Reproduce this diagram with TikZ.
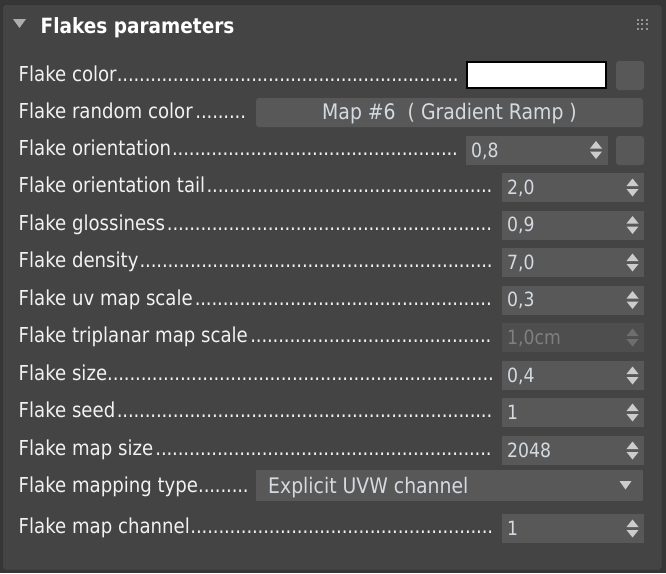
\documentclass[tikz,border=0pt]{standalone}
\usepackage{fontspec}
\setmainfont{DejaVu Sans}[FakeStretch=0.88]
\definecolor{bgout}{RGB}{54,54,54}
\definecolor{edgec}{RGB}{46,46,46}
\definecolor{panelc}{RGB}{68,68,68}
\definecolor{fieldc}{RGB}{88,88,88}
\definecolor{fieldoff}{RGB}{78,78,78}
\definecolor{labtxt}{RGB}{242,242,242}
\definecolor{valtxt}{RGB}{212,218,224}
\definecolor{offtxt}{RGB}{128,128,128}
\definecolor{arrowc}{RGB}{204,204,204}
\definecolor{arrowoff}{RGB}{110,110,110}
\definecolor{gripc}{RGB}{150,150,150}
\newcommand{\labfont}{\fontsize{20.6}{24}\selectfont}
\newcommand{\valfont}{\fontsize{19.6}{23}\selectfont}
\newcommand{\btnfont}{\fontsize{21.4}{25}\selectfont}
\newcommand{\hdrfont}{\fontsize{21}{25}\selectfont\bfseries}
% label with dotted leader up to the given width
\newcommand{\dotlab}[2]{\makebox[#1][l]{#2\cleaders\hbox to 5.6pt{\hss.\hss}\hfill}}
\begin{document}
\begin{tikzpicture}[x=1pt, y=-1pt,
    lab/.style={anchor=base west, inner sep=0pt, text=labtxt, font=\labfont},
    val/.style={anchor=base west, inner sep=0pt, text=valtxt, font=\valfont}]
    \useasboundingbox (0,0) rectangle (666,573);
    \fill[bgout] (0,0) rectangle (666,573);
    \filldraw[fill=panelc, draw=edgec, rounded corners=3pt] (2.5,4.5) rectangle (662,570);
    % header
    \fill[arrowc!85!black] (13,19) -- (26,19) -- (19.5,28) -- cycle;
    \node[anchor=base west, inner sep=0pt, text=white, font=\hdrfont] (title) at (40.5,33) {Flakes parameters};
    \foreach \gx in {637.5,642,646.5} \foreach \gy in {19.5,24,28.5}
        \fill[gripc] (\gx-1,\gy-1) rectangle (\gx+1,\gy+1);
    % colour swatch
    \node[lab] (l0) at (18.5,81) {\dotlab{440pt}{Flake color}};
    \draw[black, line width=2pt, fill=white] (467,62) rectangle (606,88);
    \fill[fieldc, rounded corners=3pt] (616,61) rectangle (644,90);
    % map button
    \node[lab] (l1) at (18.5,118) {\dotlab{230pt}{Flake random color}};
    \fill[fieldc, rounded corners=3pt] (256,98) rectangle (643,127);
    \node[anchor=base, inner sep=0pt, text=valtxt, font=\btnfont] (map) at (449.5,119.5) {Map \#6\ \ ( Gradient Ramp )};
    % orientation
    \node[lab] (l2) at (18.5,155.5) {\dotlab{440pt}{Flake orientation}};
    \fill[fieldc] (466,136) rectangle (608,165);
    \node[val] (v2) at (471,157) {0,8};
    \fill[arrowc] (590,148.5) -- (602,148.5) -- (596,141) -- cycle;
    \fill[arrowc] (590,151.5) -- (602,151.5) -- (596,159) -- cycle;
    \fill[fieldc, rounded corners=3pt] (616,136) rectangle (644,165);
    % spinners
    \foreach \i/\cy/\txt/\v in {{3/187.5/Flake orientation tail/2,0}, {4/225/Flake glossiness/0,9},
        {5/262.5/Flake density/7,0}, {6/300/Flake uv map scale/0,3}, {8/375.5/Flake size/0,4},
        {9/412.5/Flake seed/1}, {10/450.5/Flake map size/2048}, {12/528.5/Flake map channel/1}}{
        \node[lab] (l\i) at (18.5,\cy+5) {\dotlab{475pt}{\txt}};
        \fill[fieldc] (502,\cy-14.5) rectangle (644,\cy+14.5);
        \node[val] (v\i) at (507,\cy+6.5) {\v};
        \fill[arrowc] (626.5,\cy-1.5) -- (638.5,\cy-1.5) -- (632.5,\cy-9) -- cycle;
        \fill[arrowc] (626.5,\cy+1.5) -- (638.5,\cy+1.5) -- (632.5,\cy+9) -- cycle;
    }
    % disabled spinner
    \node[lab] (l7) at (18.5,342.5) {\dotlab{475pt}{Flake triplanar map scale}};
    \fill[fieldoff] (502,323) rectangle (644,352);
    \node[val, text=offtxt] (v7) at (507,344) {1,0cm};
    \fill[arrowoff] (626.5,336) -- (638.5,336) -- (632.5,328.5) -- cycle;
    \fill[arrowoff] (626.5,339) -- (638.5,339) -- (632.5,346.5) -- cycle;
    % dropdown
    \node[lab] (l11) at (18.5,492.5) {\dotlab{230pt}{Flake mapping type}};
    \fill[fieldc] (256,470) rectangle (643,501);
    \node[val, font=\btnfont] (v11) at (268,493) {Explicit UVW channel};
    \fill[arrowc] (619.5,481) -- (631.5,481) -- (625.5,489.5) -- cycle;
\end{tikzpicture}
\end{document}
